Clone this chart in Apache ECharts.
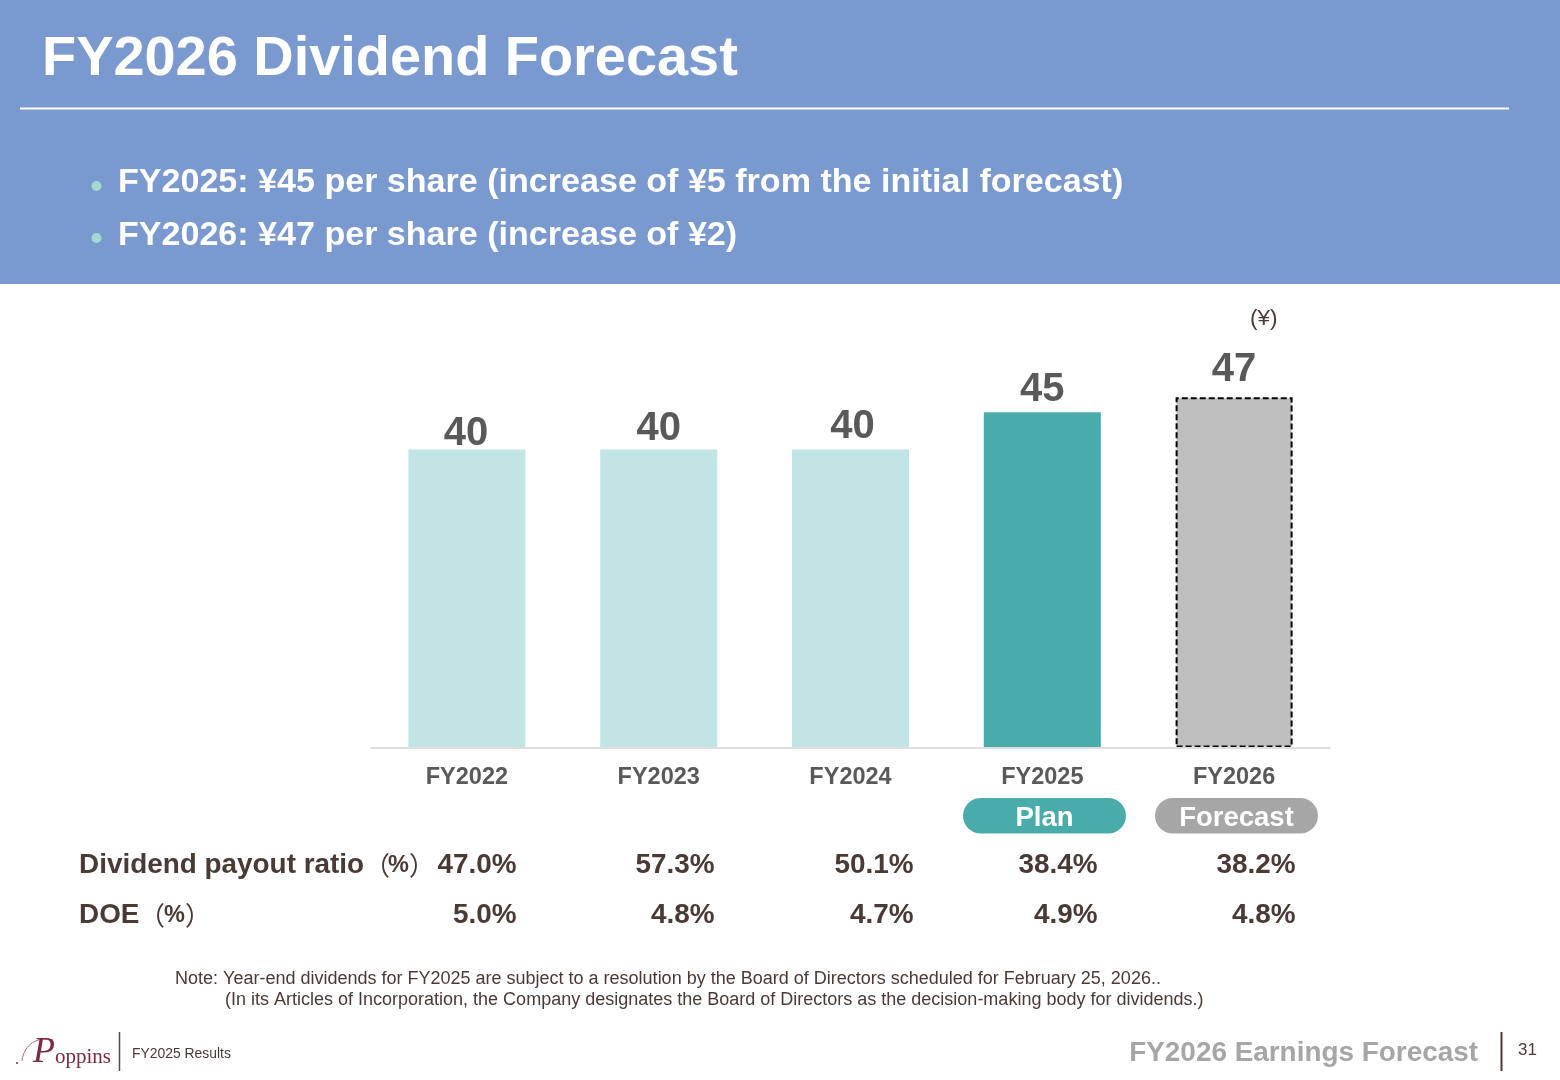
<!DOCTYPE html>
<html><head><meta charset="utf-8">
<style>html,body{margin:0;padding:0;background:#fff}#c{width:1560px;height:1080px}</style>
<script src="https://cdn.jsdelivr.net/npm/echarts@6/dist/echarts.min.js"></script></head>
<body><div id="c"></div>
<script>
const categories = ['FY2022','FY2023','FY2024','FY2025','FY2026'];
const dividends = [40,40,40,45,47];
const payoutRatio = ['47.0%','57.3%','50.1%','38.4%','38.2%'];
const doeValues = ['5.0%','4.8%','4.7%','4.9%','4.8%'];
const bullets = ['FY2025: ¥45 per share (increase of ¥5 from the initial forecast)','FY2026: ¥47 per share (increase of ¥2)'];

const F = '"Liberation Sans", Arial, sans-serif';
const BROWN = '#4a3a36', GREY = '#595959', WINE = '#7a2a45';
const t = (x,y,text,size,fill,extra={},weight='bold') => ({type:'text',x,y,silent:true,
  style:Object.assign({text,font:`${weight} ${size}px ${F}`,fill,textVerticalAlign:'middle',textAlign:'left'},extra)});
const rowX = [516.5,714.5,913.5,1097.5,1295.5];
const rowCells = (vals,y) => vals.map((v,i)=>t(rowX[i],y,v,27.9,BROWN,{textAlign:'right'}));
const pill = (x,label,fill) => [
  {type:'rect',silent:true,shape:{x,y:798,width:163,height:35.5,r:17.7},style:{fill}},
  t(x+81.5,818,label,27.5,'#fff',{textAlign:'center'})];
const unit = (l,pct,r,y) => [
  t(l,y,'（',26,BROWN,{font:'normal 26px "Noto Sans CJK JP"',textAlign:'right'}),
  t(pct,y+1,'%',23.5,BROWN),
  t(r,y,'）',26,BROWN,{font:'normal 26px "Noto Sans CJK JP"'})];

const chart = echarts.init(document.getElementById('c'),null,{renderer:'canvas'});
chart.setOption({
  animation:false,
  grid:{left:371,width:959,top:300.5,height:447},
  xAxis:{type:'category',data:categories,z:3,
    axisLine:{lineStyle:{color:'#dedede',width:2}},axisTick:{show:false},
    axisLabel:{fontFamily:F,fontWeight:'bold',fontSize:23.5,color:GREY,margin:18}},
  yAxis:{type:'value',min:0,max:60,show:false,splitLine:{show:false}},
  series:[{type:'bar',barWidth:117,
    data:dividends.map((v,i)=>({value:v,
      itemStyle: i<3?{color:'#c1e5e5'}: i===3?{color:'#49acab'}:{color:'#bebebe',borderColor:'#000',borderWidth:2,borderType:[6,3]},
      label:{offset:[[-1,0,2,0,0][i],[9,4,2,3,-2][i]]}})),
    label:{show:true,position:'top',fontFamily:F,fontWeight:'bold',fontSize:40,color:GREY,distance:5}}],
  graphic:{elements:[
    {type:'rect',silent:true,z:-1,shape:{x:0,y:0,width:1560,height:284},style:{fill:'#7a99cf'}},
    t(42,60,'FY2026 Dividend Forecast',55.9,'#fff'),
    {type:'line',silent:true,shape:{x1:20,y1:108.5,x2:1509,y2:108.5},style:{stroke:'#fff',lineWidth:2}},
    ...bullets.flatMap((b,i)=>[
      {type:'circle',silent:true,shape:{cx:96.5,cy:186+i*52,r:5},style:{fill:'#a5d8d3'}},
      t(118,183+i*53,b,34.07,'#fff')]),
    t(1250,319,'(¥)',22.5,BROWN,{},'normal'),
    ...pill(963,'Plan','#49acab'),
    ...pill(1155,'Forecast','#a6a6a6'),
    t(79,865,'Dividend payout ratio',27.9,BROWN),
    ...unit(390,388,409,865),
    t(79,915,'DOE',27.9,BROWN),
    ...unit(165,164,185,915),
    ...rowCells(payoutRatio,865),
    ...rowCells(doeValues,915),
    t(175,979,'Note: Year-end dividends for FY2025 are subject to a resolution by the Board of Directors scheduled for February 25, 2026..',18,BROWN,{},'normal'),
    t(225,1000,'(In its Articles of Incorporation, the Company designates the Board of Directors as the decision-making body for dividends.)',18,BROWN,{},'normal'),
    {type:'circle',silent:true,shape:{cx:17,cy:1063,r:1},style:{fill:WINE}},
    {type:'bezierCurve',silent:true,shape:{x1:22,y1:1061,cpx1:24,cpy1:1044,cpx2:38,cpy2:1036,x2:53,y2:1040},style:{stroke:'#a8707f',lineWidth:1,fill:'none'}},
    t(33,1053,'P',36,WINE,{font:'italic 36px "Liberation Serif"'}),
    t(55,1057,'oppins',21,WINE,{font:'21px "Liberation Serif"'}),
    {type:'line',silent:true,shape:{x1:119.5,y1:1032,x2:119.5,y2:1071},style:{stroke:'#5a4a46',lineWidth:1.5}},
    t(132,1054,'FY2025 Results',13.9,BROWN,{},'normal'),
    t(1478,1053,'FY2026 Earnings Forecast',27.9,'#a6a6a6',{textAlign:'right'}),
    {type:'line',silent:true,shape:{x1:1501.5,y1:1032,x2:1501.5,y2:1071},style:{stroke:'#4a3a36',lineWidth:2}},
    t(1518,1050,'31',17,BROWN,{},'normal')
  ]}
});
</script></body></html>
